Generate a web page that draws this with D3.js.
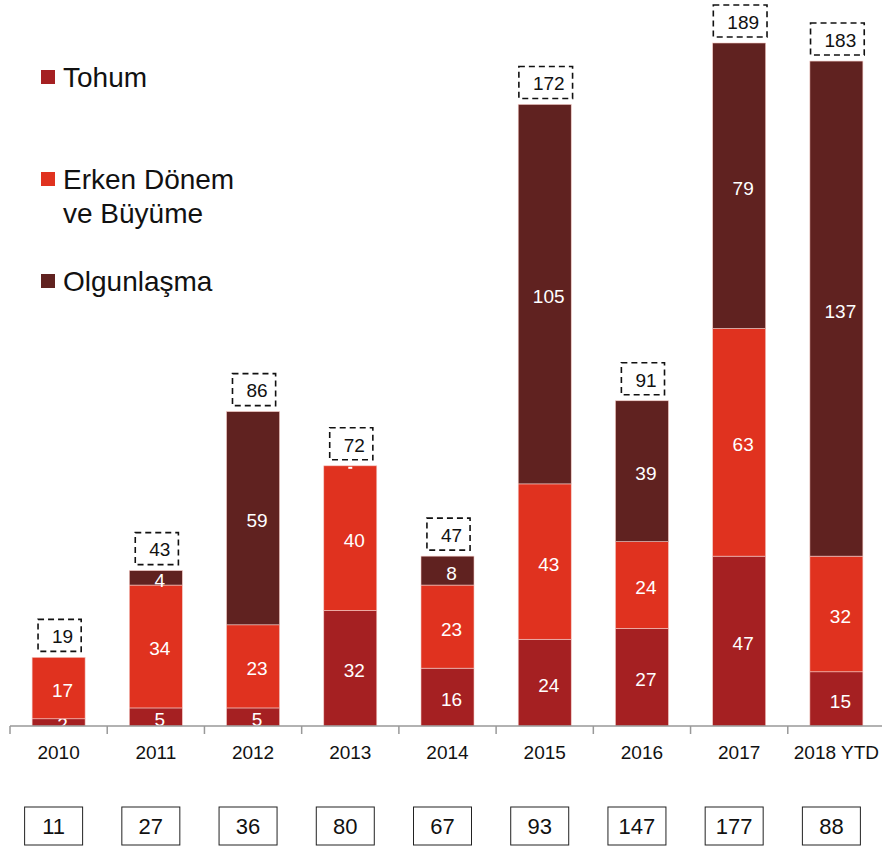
<!DOCTYPE html>
<html>
<head>
<meta charset="utf-8">
<script src="https://cdn.jsdelivr.net/npm/d3@7"></script>
<style>
  body { margin: 0; background: #fff; }
  text { font-family: 'Liberation Sans', Arial, sans-serif; }
</style>
</head>
<body>
<div id="chart"></div>
<script>
// data
const years = ['2010', '2011', '2012', '2013', '2014', '2015', '2016', '2017', '2018 YTD'];
const tohum = [2, 5, 5, 32, 16, 24, 27, 47, 15];
const erken = [17, 34, 23, 40, 23, 43, 24, 63, 32];
const olgun = [0, 4, 59, 0, 8, 105, 39, 79, 137];
const totals = [19, 43, 86, 72, 47, 172, 91, 189, 183];
const deals = [11, 27, 36, 80, 67, 93, 147, 177, 88];

const seriesNames = ['Tohum', 'Erken Dönem\nve Büyüme', 'Olgunlaşma'];
const colors = ['#a52022', '#e0321f', '#602220'];

const width = 882, height = 846;
const baseline = 726;
const topY = 43;

const rows = years.map((y, i) => ({ year: y, s0: tohum[i], s1: erken[i], s2: olgun[i], total: totals[i], deals: deals[i] }));

const xScale = d3.scaleBand()
    .domain(years)
    .range([10, 885])
    .paddingInner(0)
    .paddingOuter(0);

const yScale = d3.scaleLinear()
    .domain([0, 189])
    .range([baseline, topY]);

const stack = d3.stack().keys(['s0', 's1', 's2']);
const layers = stack(rows);

const svg = d3.select('#chart')
    .append('svg')
    .attr('width', width)
    .attr('height', height);

svg.append('defs').append('clipPath')
    .attr('id', 'plot-clip')
    .append('rect')
    .attr('x', 0).attr('y', 0)
    .attr('width', width).attr('height', baseline);

const barW = 53;
const plot = svg.append('g').attr('clip-path', 'url(#plot-clip)');

// stacked bars
const layerG = plot.selectAll('.layer')
    .data(layers)
    .join('g')
    .attr('class', 'layer')
    .attr('fill', (d, i) => colors[i]);

layerG.selectAll('rect')
    .data(d => d)
    .join('rect')
    .attr('x', d => xScale(d.data.year) + xScale.bandwidth() / 2 - barW / 2)
    .attr('y', d => yScale(d[1]))
    .attr('width', barW)
    .attr('height', d => yScale(d[0]) - yScale(d[1]))
    .attr('stroke', '#f3c9c4')
    .attr('stroke-width', 0.6);

// segment labels (sit a little right of the bar centre, as in the original)
layerG.selectAll('text')
    .data(d => d.filter(p => p[1] - p[0] > 0))
    .join('text')
    .attr('x', d => xScale(d.data.year) + xScale.bandwidth() / 2 + 4)
    .attr('y', d => (yScale(d[0]) + yScale(d[1])) / 2)
    .attr('dy', '0.47em')
    .attr('text-anchor', 'middle')
    .attr('fill', '#fff')
    .attr('font-size', '19px')
    .text(d => d[1] - d[0]);

// tiny zero mark on 2013
plot.selectAll('.zero-mark')
    .data(rows.filter(r => r.s2 === 0 && r.s0 > 5))
    .join('rect')
    .attr('class', 'zero-mark')
    .attr('x', d => xScale(d.year) + xScale.bandwidth() / 2 - 2)
    .attr('y', d => yScale(d.s0 + d.s1) + 1)
    .attr('width', 4)
    .attr('height', 2)
    .attr('fill', '#fff');

// total dashed boxes
const totalG = svg.selectAll('.total')
    .data(rows)
    .join('g')
    .attr('class', 'total')
    .attr('transform', d => `translate(${xScale(d.year) + xScale.bandwidth() / 2}, ${yScale(d.s0 + d.s1 + d.s2) - 6})`);

totalG.append('text')
    .attr('x', 4)
    .attr('y', -15)
    .attr('dy', '0.36em')
    .attr('text-anchor', 'middle')
    .attr('font-size', '19px')
    .attr('fill', '#111')
    .text(d => d.total);

totalG.insert('rect', 'text')
    .each(function () {
        const bb = d3.select(this.parentNode).select('text').node().getBBox();
        d3.select(this)
            .attr('x', bb.x - 14)
            .attr('width', bb.width + 22);
    })
    .attr('y', -32)
    .attr('height', 32)
    .attr('fill', 'none')
    .attr('stroke', '#111')
    .attr('stroke-width', 1.6)
    .attr('stroke-dasharray', '6,4');

// axis line and ticks
const axis = svg.append('g');
axis.append('line')
    .attr('x1', 10).attr('x2', 882)
    .attr('y1', baseline).attr('y2', baseline)
    .attr('stroke', '#999').attr('stroke-width', 1.5);

axis.selectAll('.tick')
    .data(years)
    .join('line')
    .attr('class', 'tick')
    .attr('x1', d => xScale(d)).attr('x2', d => xScale(d))
    .attr('y1', baseline).attr('y2', baseline + 8)
    .attr('stroke', '#999').attr('stroke-width', 1.5);

axis.selectAll('.year-label')
    .data(years)
    .join('text')
    .attr('class', 'year-label')
    .attr('x', d => xScale(d) + xScale.bandwidth() / 2)
    .attr('y', 759)
    .attr('text-anchor', 'middle')
    .attr('font-size', '19px')
    .attr('fill', '#111')
    .text(d => d);

// deal count boxes
const dealG = svg.selectAll('.deal')
    .data(rows)
    .join('g')
    .attr('class', 'deal')
    .attr('transform', d => `translate(${xScale(d.year) + xScale.bandwidth() / 2 - 5}, 826)`);

dealG.append('rect')
    .attr('x', -29).attr('y', -19)
    .attr('width', 58).attr('height', 38)
    .attr('fill', '#fff')
    .attr('stroke', '#222')
    .attr('stroke-width', 1);

dealG.append('text')
    .attr('y', 0)
    .attr('dy', '0.36em')
    .attr('text-anchor', 'middle')
    .attr('font-size', '22px')
    .attr('fill', '#111')
    .text(d => d.deals);

// legend
const legendY = [77, 179, 281];
const legend = svg.selectAll('.legend')
    .data(seriesNames)
    .join('g')
    .attr('class', 'legend')
    .attr('transform', (d, i) => `translate(41, ${legendY[i]})`);

legend.append('rect')
    .attr('x', 0).attr('y', -7)
    .attr('width', 14).attr('height', 14)
    .attr('fill', (d, i) => colors[i]);

legend.append('text')
    .attr('x', 22)
    .attr('font-size', '28px')
    .attr('fill', '#111')
    .selectAll('tspan')
    .data(d => d.split('\n'))
    .join('tspan')
    .attr('x', 22)
    .attr('dy', (d, i) => i === 0 ? '0.36em' : '1.21em')
    .text(d => d);
</script>
</body>
</html>
